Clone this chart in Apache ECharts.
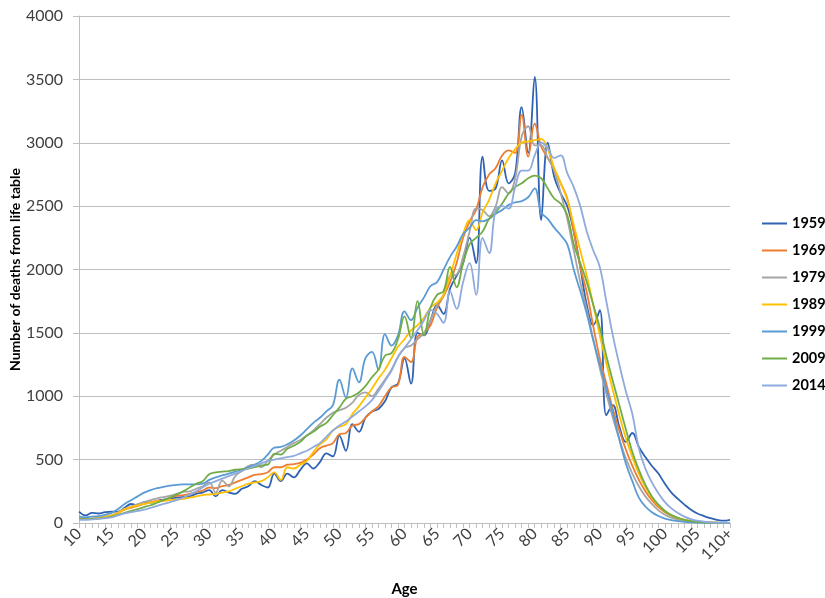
<!DOCTYPE html>
<html lang="en">
<head>
    <meta charset="UTF-8">
    <title>Deaths by age</title>
    <script src="https://cdn.jsdelivr.net/npm/echarts@6/dist/echarts.min.js"></script>
    <style>
        html, body { margin: 0; padding: 0; background: #fff; }
    </style>
</head>
<body>
<div id="main" style="width: 825px;height: 598px"></div>
<script>
    // ages 10 .. 109, then 110+
    var ages = [];
    for (var a = 10; a < 110; a++) { ages.push(String(a)); }
    ages.push('110+');

    var years = ['1959', '1969', '1979', '1989', '1999', '2009', '2014'];
    var colors = ['#3062b4', '#ed7d31', '#a5a5a5', '#ffc000', '#5b9bd5', '#70ad47', '#8faadc'];

    var d1959 = [90, 60, 80, 75, 85, 90, 90, 120, 150, 140,
        165, 160, 175, 185, 195, 200, 205, 210, 230, 240,
        260, 210, 260, 240, 230, 270, 290, 330, 300, 280,
        390, 330, 390, 360, 420, 470, 430, 480, 550, 525,
        690, 570, 780, 720, 830, 880, 900, 960, 1070, 1100,
        1300, 1100, 1500, 1480, 1600, 1720, 1650, 1850, 1950, 2050,
        2250, 2050, 2890, 2620, 2640, 2860, 2680, 2760, 3280, 2920,
        3520, 2390, 3000, 2730, 2600, 2500, 2300, 2020, 1720, 1560,
        1680, 850, 930, 760, 640, 710, 600, 520, 450, 390,
        310, 240, 190, 145, 105, 75, 55, 38, 25, 18, 25];

    var d1969 = [35, 35, 35, 40, 45, 55, 80, 105, 120, 135,
        150, 165, 175, 180, 200, 215, 220, 230, 245, 255,
        280, 275, 290, 300, 320, 340, 360, 380, 385, 400,
        440, 440, 460, 465, 475, 500, 540, 590, 610, 630,
        700, 710, 770, 780, 830, 880, 920, 1000, 1070, 1090,
        1310, 1270, 1470, 1500, 1560, 1700, 1790, 1900, 2050, 2250,
        2380, 2470, 2650, 2750, 2800, 2900, 2940, 2920, 3220, 2890,
        3150, 2970, 2880, 2790, 2680, 2560, 2300, 2020, 1820, 1550,
        1300, 1100, 900, 730, 580, 450, 340, 250, 180, 125,
        85, 58, 38, 25, 16, 10, 6, 4, 2, 1, 1];

    var d1979 = [30, 30, 32, 38, 45, 60, 85, 110, 130, 150,
        165, 180, 195, 205, 215, 230, 245, 250, 270, 290,
        320, 240, 335, 290, 370, 410, 450, 460, 440, 490,
        540, 570, 600, 630, 655, 690, 730, 780, 830, 870,
        890, 910, 950, 1010, 1030, 1000, 1060, 1130, 1210, 1310,
        1380, 1400, 1450, 1500, 1600, 1720, 1800, 1950, 1960, 2100,
        2300, 2480, 2470, 2420, 2500, 2650, 2600, 2720, 3050, 3130,
        2980, 2980, 2880, 2780, 2600, 2400, 2150, 1900, 1680, 1450,
        1220, 1020, 830, 660, 510, 390, 290, 210, 150, 100,
        65, 42, 26, 16, 10, 6, 4, 2, 1, 1, 0];

    var d1989 = [30, 30, 35, 40, 50, 60, 80, 110, 125, 140,
        150, 160, 170, 175, 180, 185, 190, 200, 210, 220,
        225, 230, 240, 250, 270, 290, 310, 320, 330, 360,
        400, 340, 440, 430, 460, 490, 560, 620, 660, 730,
        760, 780, 860, 920, 990, 1060, 1140, 1210, 1300, 1390,
        1450, 1520, 1560, 1620, 1700, 1740, 1800, 1950, 2120, 2280,
        2390, 2310, 2450, 2550, 2680, 2780, 2880, 2950, 3000, 3010,
        3020, 3030, 2950, 2800, 2680, 2550, 2350, 2150, 1950, 1720,
        1480, 1260, 1050, 850, 670, 520, 390, 285, 200, 140,
        95, 60, 38, 24, 15, 9, 5, 3, 2, 1, 0];

    var d1999 = [50, 45, 50, 55, 65, 80, 110, 150, 180, 210,
        240, 260, 275, 285, 295, 300, 305, 305, 305, 310,
        340, 360, 375, 390, 405, 420, 440, 460, 490, 540,
        595, 600, 620, 650, 690, 740, 790, 830, 880, 930,
        1130, 990, 1220, 1110, 1300, 1350, 1210, 1490, 1400, 1480,
        1670, 1600, 1700, 1780, 1870, 1900, 2000, 2100, 2180, 2280,
        2330, 2390, 2380, 2400, 2440, 2470, 2510, 2530, 2540, 2570,
        2640, 2450, 2400, 2330, 2270, 2200, 2000, 1830, 1650, 1440,
        1250, 1060, 870, 660, 470, 330, 200, 130, 85, 55,
        35, 22, 14, 9, 6, 4, 2, 1, 1, 0, 0];

    var d2009 = [30, 30, 32, 35, 40, 50, 65, 80, 95, 110,
        125, 140, 160, 180, 200, 225, 250, 280, 310, 330,
        385, 400, 405, 410, 420, 425, 430, 440, 455, 460,
        545, 540, 585, 610, 640, 690, 720, 760, 790, 850,
        910, 980, 1000, 1030, 1080, 1150, 1210, 1320, 1340, 1450,
        1630, 1460, 1750, 1480, 1700, 1800, 1830, 2020, 1860, 2050,
        2200, 2250, 2300, 2400, 2450, 2520, 2600, 2650, 2680, 2720,
        2740, 2720, 2640, 2560, 2520, 2430, 2200, 2050, 1900, 1720,
        1540, 1320, 1120, 930, 740, 560, 420, 300, 210, 145,
        95, 62, 40, 25, 15, 9, 5, 3, 2, 1, 0];

    var d2014 = [25, 25, 28, 32, 38, 45, 60, 75, 85, 95,
        105, 120, 135, 150, 165, 180, 200, 225, 250, 280,
        310, 330, 350, 370, 390, 410, 430, 450, 470, 490,
        500, 510, 520, 530, 550, 570, 600, 630, 680, 730,
        770, 800, 840, 880, 920, 970, 1040, 1120, 1200, 1310,
        1380, 1450, 1520, 1600, 1680, 1650, 1580, 1830, 1690, 1900,
        2050, 1800, 2250, 2130, 2470, 2500, 2480, 2650, 2780, 2780,
        2900, 3000, 2960, 2880, 2900, 2760, 2650, 2500, 2300, 2150,
        2020, 1750, 1480, 1250, 1040, 860, 590, 430, 320, 235,
        165, 115, 78, 50, 30, 18, 10, 6, 3, 2, 1];

    var allData = [d1959, d1969, d1979, d1989, d1999, d2009, d2014];

    var series = [];
    for (var i = 0; i < years.length; i++) {
        series.push({
            name: years[i],
            type: 'line',
            data: allData[i],
            smooth: 0.4,
            showSymbol: false,
            symbol: 'none',
            lineStyle: { width: 1.8, color: colors[i] },
            itemStyle: { color: colors[i] }
        });
    }

    var chartDom = document.getElementById('main');
    var myChart = echarts.init(chartDom, null, { renderer: 'canvas' });
    var option = {
        animation: false,
        textStyle: { fontFamily: 'Lato' },
        grid: { left: 79, right: 95, top: 16, bottom: 75, outerBoundsMode: 'none', containLabel: false },
        legend: {
            orient: 'vertical',
            left: 757,
            top: 211,
            itemWidth: 25,
            itemHeight: 2,
            itemGap: 12,
            icon: 'rect',
            textStyle: { fontFamily: 'Lato', fontSize: 14.5, fontWeight: 'bold', color: '#000' },
            data: years
        },
        xAxis: {
            type: 'category',
            data: ages,
            boundaryGap: false,
            name: 'Age',
            nameLocation: 'middle',
            nameGap: 59,
            nameMoveOverlap: false,
            nameTextStyle: { fontFamily: 'Lato', fontSize: 15, fontWeight: 'bold', color: '#000' },
            axisLine: { lineStyle: { color: '#bfbfbf', width: 1 } },
            axisTick: { show: true, interval: 0, length: 5, lineStyle: { color: '#bfbfbf' } },
            axisLabel: { interval: 4, rotate: 45, fontSize: 16, color: '#404040', margin: 8 },
            splitLine: { show: false }
        },
        yAxis: {
            type: 'value',
            min: 0,
            max: 4000,
            interval: 500,
            name: 'Number of deaths from life table',
            nameLocation: 'middle',
            nameGap: 57,
            nameMoveOverlap: false,
            nameTextStyle: { fontFamily: 'Lato', fontSize: 14, fontWeight: 'bold', color: '#000' },
            axisLine: { show: true, lineStyle: { color: '#bfbfbf' } },
            axisTick: { show: true, length: 6, lineStyle: { color: '#bfbfbf' } },
            axisLabel: { fontSize: 16, color: '#404040', margin: 16, formatter: function (v) { return String(v); } },
            splitLine: { lineStyle: { color: '#bfbfbf', width: 1.2 } }
        },
        series: series
    };
    option && myChart.setOption(option);
</script>
</body>
</html>
